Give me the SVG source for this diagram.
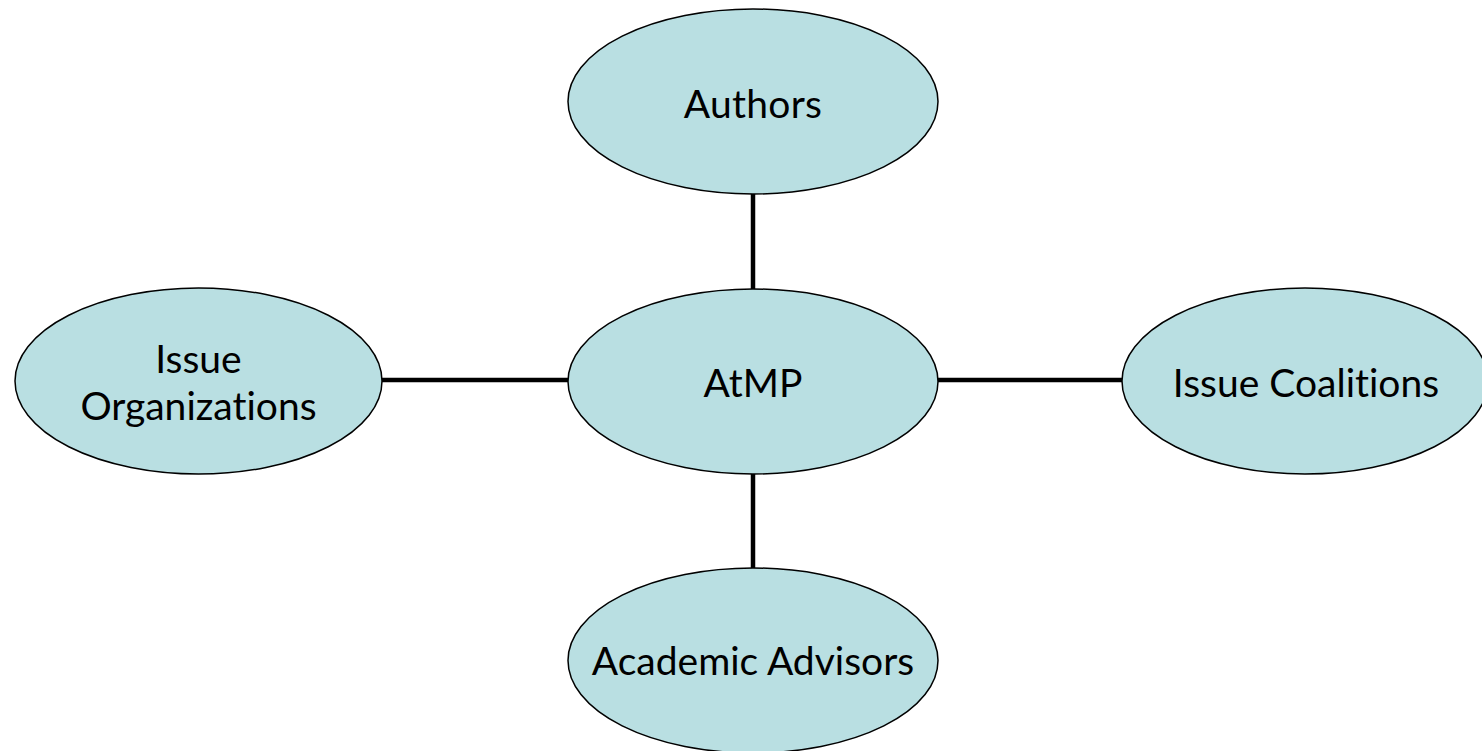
<svg xmlns="http://www.w3.org/2000/svg" width="1482" height="751" viewBox="0 0 1482 751">
<style>
.node ellipse{fill:#b9dfe2;stroke:#000;stroke-width:1.5}
.node text{font-family:Lato,"Open Sans",sans-serif;font-size:39px;fill:#000;text-anchor:middle;font-variant-ligatures:none;font-feature-settings:"liga" 0,"dlig" 0}
.conn line{stroke:#000;stroke-width:4.5}
</style>
<rect width="1482" height="751" fill="#fff"/>
<g class="conn" id="connectors">
<line x1="753" y1="194" x2="753" y2="289"/>
<line x1="753" y1="474" x2="753" y2="568"/>
<line x1="382" y1="380" x2="568" y2="380"/>
<line x1="938" y1="380" x2="1122" y2="380"/>
</g>
<g class="node" id="authors"><ellipse cx="753" cy="101.5" rx="185" ry="92.5"/><text x="753" y="118" letter-spacing="0.3">Authors</text></g>
<g class="node" id="atmp"><ellipse cx="753" cy="381.5" rx="185" ry="92.5"/><text x="753" y="397">AtMP</text></g>
<g class="node" id="issue-organizations"><ellipse cx="198.5" cy="381" rx="183.5" ry="93"/><text x="198.5" y="373">Issue</text><text x="198.5" y="420">Organizations</text></g>
<g class="node" id="issue-coalitions"><ellipse cx="1305" cy="381" rx="183" ry="93"/><text x="1306" y="397">Issue Coalitions</text></g>
<g class="node" id="academic-advisors"><ellipse cx="753" cy="660.5" rx="185" ry="92.5"/><text x="753" y="675">Academic Advisors</text></g>
</svg>
